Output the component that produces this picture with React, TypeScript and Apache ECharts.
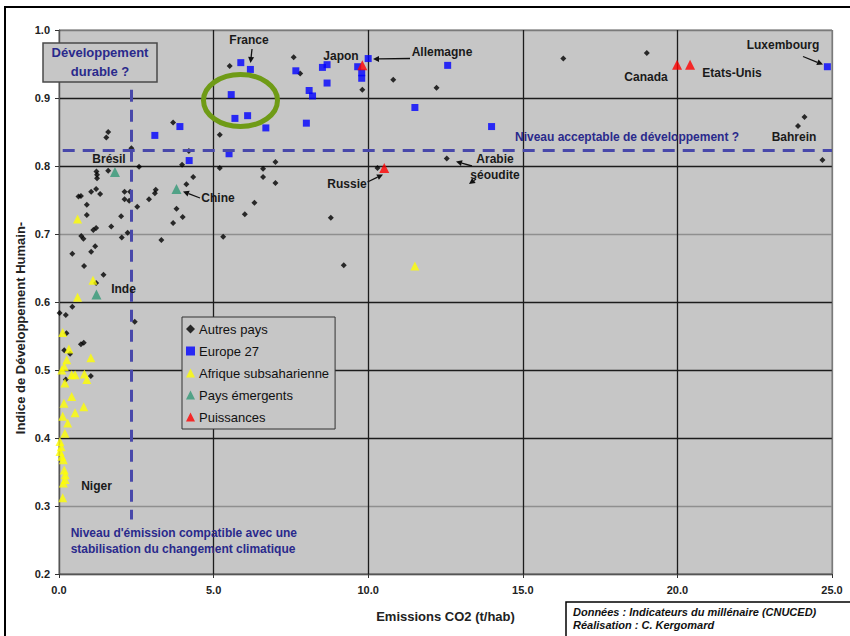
import React, { useEffect, useRef } from "react";
import * as echarts from "echarts";

const FONT = "'Liberation Sans', Arial, Helvetica, sans-serif";

// Axis ticks
const X_MIN = 0;
const X_MAX = 25;
const X_INTERVAL = 5;
const Y_MIN = 0.2;
const Y_MAX = 1.0;
const Y_INTERVAL = 0.1;

// Series names
const SERIES_NAMES = [
  "Autres pays",
  "Europe 27",
  "Afrique subsaharienne",
  "Pays émergents",
  "Puissances",
];

// [CO2 t/hab, IDH]
const autresPays: [number, number][] = [
  [5.52, 0.947], [7.59, 0.96], [7.8, 0.936], [9.81, 0.912], [10.81, 0.927],
  [16.31, 0.958], [19.01, 0.966], [12.21, 0.915], [24.11, 0.872], [23.9, 0.859],
  [24.69, 0.809], [12.54, 0.811],
  [5.2, 0.846], [5.2, 0.797], [6.6, 0.796], [6.6, 0.784], [7.0, 0.806], [7.0, 0.775],
  [6.32, 0.746], [6.01, 0.729], [5.31, 0.696], [8.79, 0.724], [9.21, 0.654], [10.3, 0.797],
  [1.59, 0.85], [1.53, 0.842], [2.34, 0.826], [2.59, 0.799], [3.69, 0.864], [3.98, 0.802],
  [4.2, 0.822],
  [1.21, 0.792], [1.23, 0.787], [1.23, 0.782], [1.59, 0.793], [0.63, 0.755], [0.71, 0.756],
  [1.04, 0.762], [1.2, 0.766], [1.33, 0.759], [0.9, 0.743], [0.9, 0.728], [0.43, 0.671],
  [0.72, 0.697], [0.79, 0.693], [1.11, 0.706], [1.2, 0.709], [1.17, 0.682], [1.04, 0.674],
  [0.81, 0.653], [1.44, 0.64], [1.2, 0.628], [1.69, 0.711], [2.01, 0.726], [2.03, 0.695],
  [2.12, 0.762], [2.3, 0.762], [2.12, 0.751], [2.27, 0.749], [2.22, 0.702], [2.53, 0.74],
  [2.91, 0.751], [3.1, 0.76], [3.13, 0.765], [3.31, 0.691], [3.8, 0.737], [3.69, 0.716],
  [4.0, 0.725], [4.12, 0.773], [4.34, 0.784],
  [0.02, 0.584], [0.22, 0.581], [0.43, 0.593], [2.45, 0.571], [0.24, 0.554], [0.17, 0.529],
  [0.36, 0.524], [0.71, 0.538], [0.8, 0.54], [1.03, 0.491], [0.22, 0.486],
];

const europe27: [number, number][] = [
  [5.88, 0.952], [6.19, 0.942], [5.57, 0.905], [5.69, 0.87], [6.1, 0.874], [6.69, 0.856],
  [7.66, 0.94], [8.0, 0.863], [8.09, 0.911], [8.2, 0.903], [8.52, 0.945], [8.67, 0.949],
  [8.67, 0.922], [9.66, 0.946], [9.79, 0.937], [9.79, 0.929], [10.0, 0.958], [11.51, 0.886],
  [12.57, 0.948], [13.99, 0.858], [24.85, 0.946], [3.1, 0.845], [3.91, 0.858], [4.21, 0.808],
  [5.5, 0.818],
];

const afriqueSubsaharienne: [number, number][] = [
  [0.6, 0.722], [1.1, 0.632], [0.6, 0.607], [11.51, 0.653],
  [0.12, 0.555], [0.32, 0.531], [0.25, 0.515], [1.03, 0.518], [0.17, 0.505], [0.09, 0.5],
  [0.41, 0.493], [0.52, 0.493], [0.82, 0.494], [0.9, 0.486], [0.19, 0.481], [0.41, 0.461],
  [0.16, 0.451], [0.8, 0.446], [0.52, 0.437], [0.12, 0.432], [0.28, 0.422], [0.19, 0.407],
  [0.03, 0.395], [0.07, 0.387], [0.03, 0.38], [0.09, 0.373], [0.14, 0.368], [0.17, 0.353],
  [0.2, 0.346], [0.2, 0.339], [0.14, 0.334], [0.12, 0.312],
];

const paysEmergents: [number, number][] = [
  [1.81, 0.791], // Brésil
  [3.8, 0.766], // Chine
  [1.21, 0.611], // Inde
];

const puissances: [number, number][] = [
  [9.81, 0.948], // Japon
  [10.52, 0.797], // Russie
  [19.99, 0.949], // Canada
  [20.41, 0.949], // Etats-Unis
];

// Threshold lines
const SEUIL_IDH = 0.823;
const SEUIL_IDH_X = [0.12, 25];
const SEUIL_CO2 = 2.35;
const SEUIL_CO2_Y = [0.912, 0.28];

const DARK = "#1c1c1c";
const LIGHT = "#8f8f8f";
const NAVY = "#2a2a8c";
const DASH = "#4848aa";

function arrow(x1: number, y1: number, x2: number, y2: number): any[] {
  const ang = Math.atan2(y2 - y1, x2 - x1);
  const L = 6;
  const W = 3;
  const bx = x2 - L * Math.cos(ang);
  const by = y2 - L * Math.sin(ang);
  const px = -Math.sin(ang) * W;
  const py = Math.cos(ang) * W;
  return [
    {
      type: "line",
      z: 100,
      silent: true,
      shape: { x1, y1, x2: bx, y2: by },
      style: { stroke: "#111", lineWidth: 1.3 },
    },
    {
      type: "polygon",
      z: 100,
      silent: true,
      shape: { points: [[x2, y2], [bx + px, by + py], [bx - px, by - py]] },
      style: { fill: "#111" },
    },
  ];
}

function label(text: string, x: number, y: number, opts: any = {}): any {
  return {
    type: "text",
    z: 100,
    silent: true,
    x,
    y,
    style: {
      text,
      fill: opts.fill || "#1a1a1a",
      fontFamily: FONT,
      fontWeight: "bold",
      fontStyle: opts.italic ? "italic" : "normal",
      fontSize: opts.size || 12,
      align: opts.align || "center",
      verticalAlign: "middle",
    },
  };
}

export default function App() {
  const ref = useRef<HTMLDivElement>(null);

  useEffect(() => {
    document.body.style.margin = "0";
    if (!ref.current) return;
    const chart = echarts.init(ref.current, null, { renderer: "svg" });

    const graphics: any[] = [
      // outer frame
      {
        type: "rect",
        z: 100,
        silent: true,
        shape: { x: 5, y: 7, width: 1000, height: 1000 },
        style: { fill: "none", stroke: "#000", lineWidth: 2 },
      },
      // Y axis title
      {
        type: "text",
        z: 100,
        silent: true,
        x: 20.5,
        y: 328,
        rotation: Math.PI / 2,
        style: {
          text: "Indice de Développement Humain-",
          fill: "#222",
          fontFamily: FONT,
          fontWeight: "bold",
          fontSize: 13,
          align: "center",
          verticalAlign: "middle",
        },
      },
      // "Développement durable ?" box
      {
        type: "rect",
        z: 100,
        silent: true,
        shape: { x: 43, y: 43, width: 114, height: 39 },
        style: { fill: "#c6c6c6", stroke: "#4a4a4a", lineWidth: 1.5 },
      },
      label("Développement", 100, 52.5, { fill: NAVY, size: 13 }),
      label("durable ?", 100, 71, { fill: NAVY, size: 13 }),
      label("Niveau acceptable de développement ?", 627, 136.7, { fill: NAVY, size: 12 }),
      label("Niveau d'émission compatible avec une", 70.7, 533.3, {
        fill: NAVY,
        size: 12,
        align: "left",
      }),
      label("stabilisation du changement climatique", 70.7, 549.3, {
        fill: NAVY,
        size: 12,
        align: "left",
      }),
      // country labels
      label("France", 249, 40),
      label("Japon", 341, 56),
      label("Allemagne", 442, 52),
      label("Luxembourg", 783, 45),
      label("Canada", 646, 77),
      label("Etats-Unis", 732, 72.5),
      label("Bahrein", 794, 136.5),
      label("Arabie", 495, 159.3),
      label("séoudite", 495, 175),
      label("Russie", 347, 184),
      label("Brésil", 109, 159),
      label("Chine", 218, 198),
      label("Inde", 123.5, 289),
      label("Niger", 96.5, 486),
      // arrows
      ...arrow(252, 49, 250.5, 63),
      ...arrow(410, 58.5, 373, 59),
      ...arrow(803, 56.5, 823, 64.5),
      ...arrow(367.5, 182, 383, 174.5),
      ...arrow(200, 198, 183, 191.5),
      ...arrow(472, 166, 456, 161.5),
      ...arrow(476, 179, 469, 184),
      // green ellipse
      {
        type: "ellipse",
        z: 100,
        silent: true,
        shape: { cx: 240.5, cy: 100.5, rx: 37, ry: 26 },
        style: { fill: "none", stroke: "#6f9b16", lineWidth: 5 },
      },
      // credits box
      {
        type: "rect",
        z: 100,
        silent: true,
        shape: { x: 566, y: 602, width: 300, height: 60 },
        style: { fill: "#fff", stroke: "#000", lineWidth: 1.5 },
      },
      label("Données : Indicateurs du millénaire (CNUCED)", 573, 611.7, {
        italic: true,
        size: 11,
        align: "left",
        fill: "#111",
      }),
      label("Réalisation : C. Kergomard", 573, 624.5, {
        italic: true,
        size: 11,
        align: "left",
        fill: "#111",
      }),
    ];

    const option: any = {
      animation: false,
      backgroundColor: "#ffffff",
      textStyle: { fontFamily: FONT },
      grid: {
        left: 59,
        right: 18,
        top: 30,
        bottom: 62,
        show: true,
        backgroundColor: "#c6c6c6",
        borderColor: "#7a7a7a",
        borderWidth: 1,
      },
      legend: {
        orient: "vertical",
        left: 182,
        top: 317,
        padding: [5, 6, 5, 4],
        itemGap: 8,
        itemWidth: 9,
        itemHeight: 9,
        backgroundColor: "#c6c6c6",
        borderColor: "#333",
        borderWidth: 1,
        borderRadius: 0,
        textStyle: { fontSize: 13, color: "#111", fontFamily: FONT, lineHeight: 14, padding: [0, 0, 0, -1] },
        data: SERIES_NAMES,
      },
      xAxis: {
        type: "value",
        min: X_MIN,
        max: X_MAX,
        interval: X_INTERVAL,
        name: "Emissions CO2 (t/hab)",
        nameLocation: "middle",
        nameGap: 36,
        nameTextStyle: { fontWeight: "bold", fontSize: 13, color: "#222", fontFamily: FONT },
        axisLine: { show: true, lineStyle: { color: "#555", width: 1 } },
        axisTick: { show: true, length: 4, lineStyle: { color: "#333" } },
        axisLabel: {
          margin: 10,
          fontWeight: "bold",
          fontSize: 11,
          color: "#222",
          formatter: (v: number) => v.toFixed(1),
        },
        splitLine: {
          show: true,
          lineStyle: { color: [DARK, DARK, DARK, DARK, DARK, "#7a7a7a"], width: 1.3 },
        },
      },
      yAxis: {
        type: "value",
        min: Y_MIN,
        max: Y_MAX,
        interval: Y_INTERVAL,
        axisLine: { show: true, lineStyle: { color: "#555", width: 1 } },
        axisTick: { show: true, length: 4, lineStyle: { color: "#333" } },
        axisLabel: {
          margin: 9,
          fontWeight: "bold",
          fontSize: 11,
          color: "#222",
          formatter: (v: number) => v.toFixed(1),
        },
        splitLine: {
          show: true,
          lineStyle: {
            color: [DARK, LIGHT, DARK, DARK, DARK, LIGHT, DARK, DARK, "#7a7a7a"],
            width: 1.3,
          },
        },
      },
      series: [
        {
          name: SERIES_NAMES[0],
          type: "scatter",
          data: autresPays,
          symbol: "diamond",
          symbolSize: 6,
          itemStyle: { color: "#000" },
          markLine: {
            silent: true,
            symbol: ["none", "none"],
            label: { show: false },
            lineStyle: { color: DASH, width: 3, type: [12, 8] },
            data: [
              [
                { coord: [SEUIL_IDH_X[0], SEUIL_IDH] },
                { coord: [SEUIL_IDH_X[1], SEUIL_IDH] },
              ],
              [
                { coord: [SEUIL_CO2, SEUIL_CO2_Y[0]] },
                { coord: [SEUIL_CO2, SEUIL_CO2_Y[1]] },
              ],
            ],
          },
        },
        {
          name: SERIES_NAMES[1],
          type: "scatter",
          data: europe27,
          symbol: "rect",
          symbolSize: 7,
          itemStyle: { color: "#0000ff" },
        },
        {
          name: SERIES_NAMES[2],
          type: "scatter",
          data: afriqueSubsaharienne,
          symbol: "triangle",
          symbolSize: 9,
          itemStyle: { color: "#ffff00" },
        },
        {
          name: SERIES_NAMES[3],
          type: "scatter",
          data: paysEmergents,
          symbol: "triangle",
          symbolSize: 10,
          itemStyle: { color: "#339977" },
        },
        {
          name: SERIES_NAMES[4],
          type: "scatter",
          data: puissances,
          symbol: "triangle",
          symbolSize: 10,
          itemStyle: { color: "#ff0000" },
        },
      ],
      graphic: graphics,
    };

    chart.setOption(option);
    return () => {
      chart.dispose();
    };
  }, []);

  return <div ref={ref} style={{ width: 850, height: 636 }} />;
}
